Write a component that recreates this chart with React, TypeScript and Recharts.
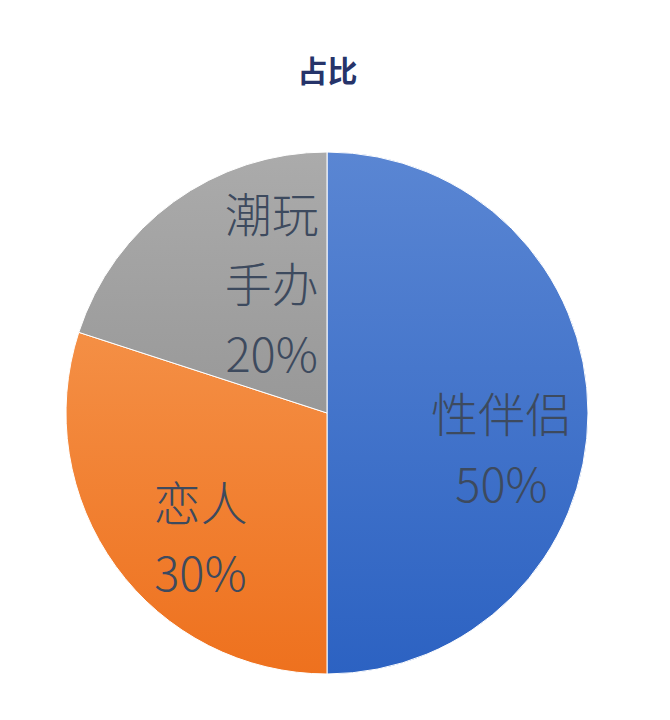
import React from "react";
import { PieChart, Pie, Cell } from "recharts";

const categories = ["性伴侣", "恋人", "潮玩手办"];
const labelLines = [["性伴侣"], ["恋人"], ["潮玩", "手办"]];
const shares = [50, 30, 20];
const percentLabels = ["50%", "30%", "20%"];

const gradTop = ["#5A86D3", "#F48F45", "#ABABAB"];
const gradBottom = ["#2C62C2", "#EE711E", "#989898"];
const labelShift = [
  { dx: -3, dy: 33 },
  { dx: 17, dy: 18 },
  { dx: 49, dy: 12 },
];

const data = categories.map((name, i) => ({ name, value: shares[i] }));

const RAD = Math.PI / 180;
const LINE_H = 70;

const renderLabel = (props: any) => {
  const { cx, cy, outerRadius, midAngle, index } = props;
  const r = outerRadius * 0.68;
  const x = cx + r * Math.cos(-midAngle * RAD) + labelShift[index].dx;
  const y = cy + r * Math.sin(-midAngle * RAD) + labelShift[index].dy;
  const lines = [...labelLines[index], percentLabels[index]];
  const startY = y - ((lines.length - 1) * LINE_H) / 2;
  return (
    <text
      key={`lbl-${index}`}
      x={x}
      y={startY}
      textAnchor="middle"
      dominantBaseline="central"
      fill="#3D4A5E"
      fontSize={47}
      fontWeight={300}
      fontFamily="'Noto Sans CJK SC', 'Noto Sans', sans-serif"
    >
      {lines.map((t, k) => (
        <tspan key={k} x={x} y={startY + k * LINE_H} dominantBaseline="central">
          {t}
        </tspan>
      ))}
    </text>
  );
};

export default function App() {
  return (
    <div
      style={{
        position: "absolute",
        left: 0,
        top: 0,
        width: 670,
        height: 720,
        background: "#ffffff",
      }}
    >
      <svg width={0} height={0} style={{ position: "absolute" }}>
        <defs>
          {categories.map((_, i) => (
            <linearGradient key={i} id={`grad${i}`} x1="0" y1="0" x2="0" y2="1">
              <stop offset="0%" stopColor={gradTop[i]} />
              <stop offset="100%" stopColor={gradBottom[i]} />
            </linearGradient>
          ))}
        </defs>
      </svg>
      <div
        style={{
          position: "absolute",
          left: 0,
          top: 49,
          width: 655,
          textAlign: "center",
          fontFamily: "'Noto Sans CJK SC', sans-serif",
          fontWeight: 700,
          fontSize: 30,
          color: "#26346A",
          lineHeight: "40px",
        }}
      >
        占比
      </div>
      <PieChart
        width={670}
        height={720}
        margin={{ top: 0, right: 0, bottom: 0, left: 0 }}
        style={{ position: "absolute", left: 0, top: 0 }}
      >
        <Pie
          data={data}
          dataKey="value"
          nameKey="name"
          cx={327}
          cy={413}
          outerRadius={261}
          startAngle={90}
          endAngle={-270}
          stroke="#ffffff"
          strokeWidth={1}
          label={renderLabel}
          labelLine={false}
          isAnimationActive={false}
        >
          {data.map((_, i) => (
            <Cell key={i} fill={`url(#grad${i})`} />
          ))}
        </Pie>
      </PieChart>
    </div>
  );
}
